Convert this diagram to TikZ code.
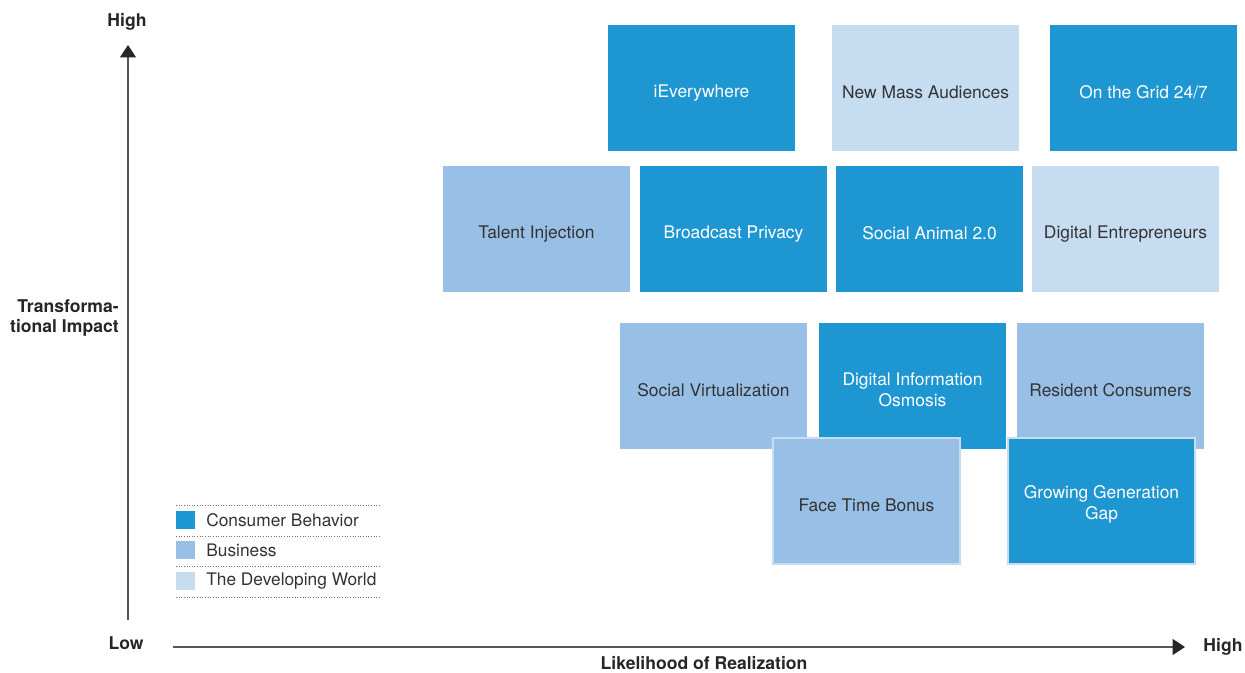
\documentclass[tikz,border=0pt]{standalone}
\usepackage{fontspec}
\setmainfont{TeX Gyre Heros}
\usepackage{tikz}
\usepackage{xcolor}
\usetikzlibrary{arrows.meta}

\definecolor{consumerblue}{HTML}{1E96D2}
\definecolor{businessblue}{HTML}{98BFE5}
\definecolor{worldblue}{HTML}{C6DCF1}
\definecolor{labelgray}{HTML}{333333}
\definecolor{axisgray}{HTML}{555555}

\tikzset{
  trendbox/.style={minimum width=3.74cm, minimum height=2.52cm, inner sep=0pt,
    align=center, text height=12.5pt, font=\fontsize{9.9}{11.8}\selectfont},
  twoline/.style={text height=23pt},
  consumer/.style={trendbox, fill=consumerblue, text=white},
  business/.style={trendbox, fill=businessblue, text=labelgray},
  developing/.style={trendbox, fill=worldblue, text=labelgray},
  axislabel/.style={font=\bfseries\fontsize{10}{11.5}\selectfont, text=black!85},
  legendkey/.style={minimum width=0.38cm, minimum height=0.36cm, inner sep=0pt},
  legendtext/.style={anchor=west, inner sep=0pt, text=labelgray, font=\fontsize{9.85}{11}\selectfont},
  legendrule/.style={densely dotted, black!55, line width=0.5pt}
}

\begin{document}
\begin{tikzpicture}[x=0.02cm, y=0.02cm]
  \useasboundingbox (0,0) rectangle (1245,673);

  % Axes
  \coordinate (yfoot) at (128,53);
  \coordinate (ytip) at (128,628);
  \coordinate (xfoot) at (173,26);
  \coordinate (xtip) at (1185,26);
  \draw[axisgray, line width=0.8pt, -{Triangle[length=7pt,width=9pt,color=black!85]}] (yfoot) -- (ytip);
  \draw[axisgray, line width=0.8pt, -{Triangle[length=7pt,width=9pt,color=black!85]}] (xfoot) -- (xtip);

  \node[axislabel] (yhigh) at (127,651) {High};
  \node[axislabel] (ylow) at (126,30) {Low};
  \node[axislabel] (xhigh) at (1223,26) {High};
  \node[axislabel] (xname) at (704,10) {Likelihood of Realization};
  \node[axislabel, anchor=east, align=right, inner sep=0pt] (yname) at (119,355) {Transforma-\\tional Impact};

  % Top row
  \node[consumer] (ieverywhere) at (701.5,585) {iEverywhere};
  \node[developing] (massaudiences) at (925.5,585) {New Mass Audiences};
  \node[consumer] (onthegrid) at (1143.5,585) {On the Grid 24/7};

  % Second row
  \node[business] (talent) at (536.5,444) {Talent Injection};
  \node[consumer] (broadcast) at (733.5,444) {Broadcast Privacy};
  \node[consumer] (socialanimal) at (929.5,444) {Social Animal 2.0};
  \node[developing] (entrepreneurs) at (1125.5,444) {Digital Entrepreneurs};

  % Third row
  \node[business] (virtualization) at (713.5,287) {Social Virtualization};
  \node[consumer, twoline] (osmosis) at (912.5,287) {Digital Information\\Osmosis};
  \node[business] (resident) at (1110.5,287) {Resident Consumers};

  % Bottom row, lying over the third row
  \node[business, draw=worldblue, line width=0.6pt] (facetime) at (866.5,172) {Face Time Bonus};
  \node[consumer, twoline, draw=worldblue, line width=0.6pt] (generationgap) at (1101.5,172) {Growing Generation\\Gap};

  % Legend
  \draw[legendrule] (176,168) -- (380,168);
  \draw[legendrule] (176,137) -- (380,137);
  \draw[legendrule] (176,107) -- (380,107);
  \draw[legendrule] (176,76) -- (380,76);
  \node[legendkey, fill=consumerblue] (keyconsumer) at (185.5,153) {};
  \node[legendkey, fill=businessblue] (keybusiness) at (185.5,123) {};
  \node[legendkey, fill=worldblue] (keyworld) at (185.5,92) {};
  \node[legendtext] (txtconsumer) at (206,153) {Consumer Behavior};
  \node[legendtext] (txtbusiness) at (206,123) {Business};
  \node[legendtext] (txtworld) at (206,92) {The Developing World};
\end{tikzpicture}
\end{document}
